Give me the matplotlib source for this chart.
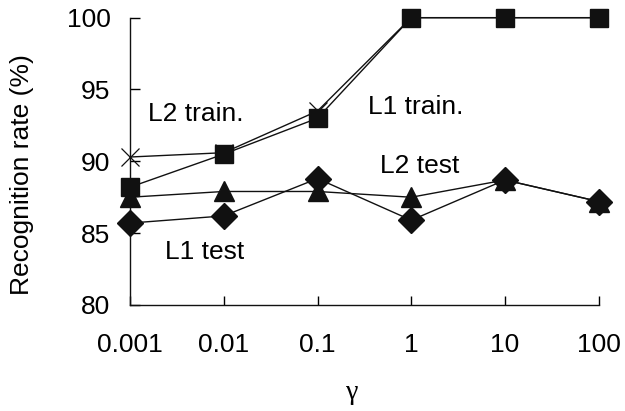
import numpy as np
import matplotlib.pyplot as plt

plt.rcParams['font.family'] = ['Liberation Sans', 'DejaVu Sans']

gamma_labels = ['0.001', '0.01', '0.1', '1', '10', '100']
l2_train = [90.3, 90.6, 93.5, 100, 100, 100]
l1_train = [88.2, 90.5, 93.0, 100, 100, 100]
l2_test = [87.5, 87.9, 87.9, 87.5, 88.7, 87.2]
l1_test = [85.7, 86.2, 88.8, 85.9, 88.7, 87.2]

ink = '#111111'
xs = np.arange(len(gamma_labels))

fig = plt.figure(figsize=(6.25, 4.11), dpi=100)
ax = fig.add_axes([0.208, 0.258, 0.75, 0.699])

style = dict(color=ink, lw=1.0, clip_on=False)
ax.plot(xs, l2_train, marker='x', ms=13, mew=0.9, zorder=3, **style)
ax.plot(xs, l1_train, marker='s', ms=13, zorder=4, **style)
ax.plot(xs, l2_test, marker='^', ms=14, zorder=3, **style)
ax.plot(xs, l1_test, marker='D', ms=13, zorder=3, **style)

fs = 19
ax.text(0.19, 92.8, 'L2 train.', fontsize=fs, ha='left', va='baseline')
ax.text(2.54, 93.3, 'L1 train.', fontsize=fs, ha='left', va='baseline')
ax.text(2.67, 89.2, 'L2 test', fontsize=fs, ha='left', va='baseline')
ax.text(0.37, 83.2, 'L1 test', fontsize=fs, ha='left', va='baseline')

ax.set_xlim(0, len(gamma_labels) - 1)
ax.set_ylim(80, 100)
ax.set_xticks(xs)
ax.set_xticklabels(gamma_labels)
ax.set_yticks([80, 85, 90, 95, 100])
ax.tick_params(axis='x', direction='in', length=6.5, width=1, pad=20, labelsize=fs)
ax.tick_params(axis='y', direction='in', length=7, width=1, pad=14, labelsize=fs)

for side in ['top', 'right']:
    ax.spines[side].set_visible(False)
for side in ['left', 'bottom']:
    ax.spines[side].set_linewidth(1)
    ax.spines[side].set_color(ink)
ax.patch.set_visible(False)

fig.text(22 / 625, 1 - 175 / 411, 'Recognition rate (%)', rotation=90,
         fontsize=fs, ha='center', va='center')
fig.text(352 / 625, 1 - 392 / 411, 'γ', fontsize=fs + 1, ha='center', va='center',
         family=['Liberation Serif', 'DejaVu Serif'])

fig.savefig('out.png', dpi=100)
